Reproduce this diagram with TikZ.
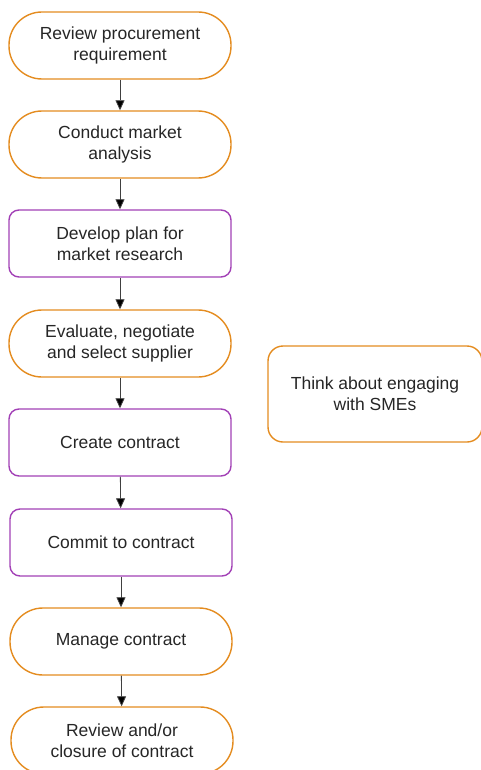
\documentclass[tikz,border=0pt]{standalone}
\usepackage{fontspec}
\setmainfont{Liberation Sans}
\usepackage{tikz}
\usetikzlibrary{positioning}
\usetikzlibrary{arrows.meta}

\definecolor{stageorange}{RGB}{228,140,32}
\definecolor{stagepurple}{RGB}{162,64,182}

\begin{document}
\begin{tikzpicture}[x=1pt, y=-1pt,
		every node/.style={font=\fontsize{17.5}{21}\selectfont, align=center, text=black!85},
		stage/.style={draw=stageorange, line width=1.4pt, minimum width=222pt, minimum height=67pt, rounded corners=33pt},
		task/.style={draw=stagepurple, line width=1.4pt, minimum width=222pt, minimum height=67pt, rounded corners=10pt},
		note/.style={draw=stageorange, line width=1.4pt, minimum width=214pt, minimum height=96pt, rounded corners=15pt},
		flow/.style={black!75, line width=0.8pt, -{Triangle[length=10pt, width=9pt, fill=black]}}]
				\useasboundingbox (0,0) rectangle (480,770);
				% main sequence, one box every 99.5pt
				\node[stage] (review)   at (120, 45.5)  {Review procurement\\requirement};
				\node[stage] (analysis) at (120, 144.5) {Conduct market\\analysis};
				\node[task]  (plan)     at (120, 243.5) {Develop plan for\\market research};
				\node[stage] (select)   at (120, 343.5) {Evaluate, negotiate\\and select supplier};
				\node[task]  (create)   at (120, 442.5) {Create contract};
				\node[task]  (commit)   at (121, 542.5) {Commit to contract};
				\node[stage] (manage)   at (121, 641.5) {Manage contract};
				\node[stage] (closure)  at (122, 740.5) {Review and/or\\closure of contract};
				% side note
				\node[note]  (smes)     at (375, 394)   {Think about engaging\\with SMEs};
				\draw[flow] (review) -- (analysis);
				\draw[flow] (analysis) -- (plan);
				\draw[flow] (plan) -- (select);
				\draw[flow] (select) -- (create);
				\draw[flow] (create) -- (commit);
				\draw[flow] (commit) -- (manage);
				\draw[flow] (manage) -- (closure);
\end{tikzpicture}
\end{document}
